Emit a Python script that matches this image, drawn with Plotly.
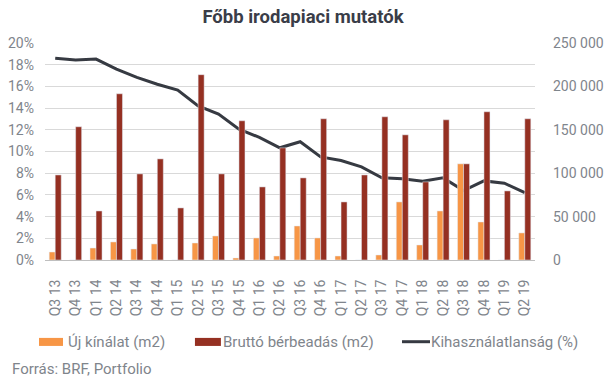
import plotly.graph_objects as go

categories = ["Q3 13", "Q4 13", "Q1 14", "Q2 14", "Q3 14", "Q4 14", "Q1 15", "Q2 15",
              "Q3 15", "Q4 15", "Q1 16", "Q2 16", "Q3 16", "Q4 16", "Q1 17", "Q2 17",
              "Q3 17", "Q4 17", "Q1 18", "Q2 18", "Q3 18", "Q4 18", "Q1 19", "Q2 19"]

uj_kinalat = [9200, 0, 13800, 20800, 12700, 18500, 0, 19600,
              27700, 2300, 25400, 4600, 39200, 25400, 4600, 0,
              5800, 66900, 17300, 56500, 110800, 43800, 0, 31200]

brutto = [98000, 153500, 56500, 191500, 99200, 116500, 60000, 213500,
          99200, 160400, 84200, 129200, 94600, 162700, 66900, 98000,
          165000, 144200, 90000, 161500, 110800, 170800, 79600, 162700]

kihasznalatlansag = [18.6, 18.43, 18.52, 17.6, 16.83, 16.2, 15.66, 14.2,
                     13.45, 12.06, 11.3, 10.34, 10.9, 9.5, 9.17, 8.58,
                     7.57, 7.48, 7.26, 7.57, 6.4, 7.29, 7.08, 6.2]

series_names = ["Új kínálat (m2)", "Bruttó bérbeadás (m2)", "Kihasználatlanság (%)"]
series_colors = ["#F79646", "#953022", "#363a42"]

pct_ticks = list(range(0, 21, 2))
m2_ticks = list(range(0, 250001, 50000))

GRAY = "#7f858c"
fig = go.Figure()
fig.add_trace(go.Bar(x=categories, y=uj_kinalat, name=series_names[0],
                     marker_color=series_colors[0], yaxis="y2"))
fig.add_trace(go.Bar(x=categories, y=brutto, name=series_names[1],
                     marker_color=series_colors[1], yaxis="y2"))
fig.add_trace(go.Scatter(x=categories, y=kihasznalatlansag, name=series_names[2],
                         mode="lines", line=dict(color=series_colors[2], width=3), yaxis="y"))

# manual legend (paper coordinates)
leg_y0, leg_y1, leg_yc = -0.396, -0.359, -0.3765
shapes = [
    dict(type="rect", xref="paper", yref="paper", x0=-0.0122, x1=0.0367, y0=leg_y0, y1=leg_y1,
         fillcolor=series_colors[0], line=dict(width=0)),
    dict(type="rect", xref="paper", yref="paper", x0=0.306, x1=0.359, y0=leg_y0, y1=leg_y1,
         fillcolor=series_colors[1], line=dict(width=0)),
    dict(type="line", xref="paper", yref="paper", x0=0.7286, x1=0.7857, y0=leg_yc, y1=leg_yc,
         line=dict(color=series_colors[2], width=3)),
]
annotations = [
    dict(text=series_names[0], x=0.0429, y=leg_yc),
    dict(text=series_names[1], x=0.359, y=leg_yc),
    dict(text=series_names[2], x=0.784, y=leg_yc),
    dict(text="Forrás: BRF, Portfolio", x=-0.0713, y=-0.502),
]
for a in annotations:
    a.update(xref="paper", yref="paper", xanchor="left", yanchor="middle", showarrow=False,
             font=dict(size=15, color=GRAY))

fig.update_layout(
    width=606, height=378,
    margin=dict(l=45, r=71, t=43, b=118, autoexpand=False),
    paper_bgcolor="white", plot_bgcolor="white",
    font=dict(family="Roboto", color=GRAY, size=14),
    separators=", ",
    title=dict(text="<b>Főbb irodapiaci mutatók</b>", x=0.5, xanchor="center",
               y=0.955, yanchor="middle", font=dict(size=18.5, color="#3a3d48")),
    barmode="group", bargap=0.41, bargroupgap=0,
    showlegend=False,
    xaxis=dict(type="category", tickangle=-90, showgrid=False, showline=True,
               linecolor="#bfbfbf", linewidth=1, ticks="", ticklabelstandoff=13,
               tickfont=dict(size=14, color=GRAY)),
    yaxis=dict(range=[0, 20], tickvals=pct_ticks, ticktext=[f"{v}%" for v in pct_ticks],
               showgrid=True, gridcolor="#d9d9d9", zeroline=False, ticklabelstandoff=10,
               tickfont=dict(size=14, color=GRAY)),
    yaxis2=dict(range=[0, 250000], tickvals=m2_ticks, tickformat=",.0f",
                overlaying="y", side="right", showgrid=False, zeroline=False,
                ticklabelstandoff=17, tickfont=dict(size=14, color=GRAY)),
    shapes=shapes,
    annotations=annotations,
)

fig.write_html("out.html", config={"displayModeBar": False},
               post_script="document.body.style.margin='0';")
